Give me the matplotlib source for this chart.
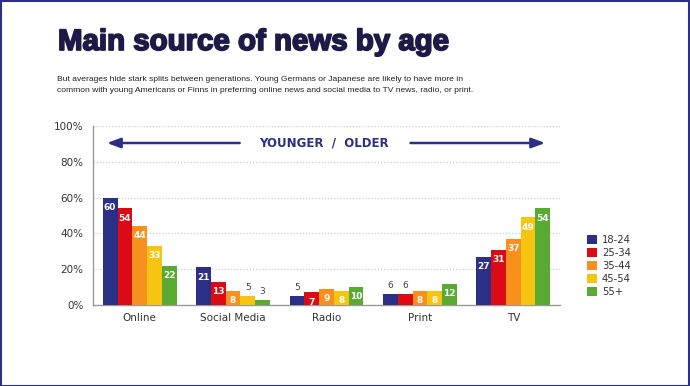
import matplotlib
matplotlib.use("Agg")
import matplotlib.pyplot as plt
import matplotlib.patheffects as pe
import numpy as np
from matplotlib.patches import Rectangle, Patch

categories = ["Online", "Social Media", "Radio", "Print", "TV"]
age_groups = ["18-24", "25-34", "35-44", "45-54", "55+"]
values = {
    "18-24": [60, 21, 5, 6, 27],
    "25-34": [54, 13, 7, 6, 31],
    "35-44": [44, 8, 9, 8, 37],
    "45-54": [33, 5, 8, 8, 49],
    "55+":   [22, 3, 10, 12, 54],
}
colors = ["#2b2f86", "#dc0a14", "#f7901c", "#f6c512", "#58aa32"]
yticks = [0, 20, 40, 60, 80, 100]
ytick_labels = ["0%", "20%", "40%", "60%", "80%", "100%"]

title = "Main source of news by age"
subtitle = ("But averages hide stark splits between generations. Young Germans or Japanese are likely to have more in\n"
            "common with young Americans or Finns in preferring online news and social media to TV news, radio, or print.")

W, H = 690, 386
fig = plt.figure(figsize=(W / 100, H / 100), dpi=100)
fig.patch.set_facecolor("white")

# border
fig.add_artist(Rectangle((0.5 / W, 0.5 / H), 1 - 1.5 / W, 1 - 1.5 / H, transform=fig.transFigure,
                         fill=False, edgecolor="#2b2f86", linewidth=1.5))

title_color = "#1e1a48"
fig.text(58 / W, 1 - 42 / H, title, fontsize=21.2, fontweight="bold", color=title_color,
         family=["Liberation Sans", "DejaVu Sans"], va="center", ha="left",
         path_effects=[pe.withStroke(linewidth=1.3, foreground=title_color)])
fig.text(57 / W, 1 - 85 / H, subtitle, fontsize=6.1, color="#222222",
         family=["Liberation Sans", "DejaVu Sans"], va="center", ha="left", linespacing=1.75)

ax = fig.add_axes([93 / W, 1 - 305 / H, (560 - 93) / W, (305 - 126) / H])
x = np.arange(len(categories))
bw = 0.158
for i, (g, c) in enumerate(zip(age_groups, colors)):
    xs = x + (i - 2) * bw
    vals = values[g]
    ax.bar(xs, vals, width=bw, color=c, zorder=3, linewidth=0)
    for xi, v in zip(xs, vals):
        if v >= 7:
            ax.annotate(str(v), (xi, v), xytext=(0, -7), textcoords="offset points",
                        ha="center", va="center", color="white", fontsize=6.5,
                        fontweight="bold", zorder=4)
        else:
            ax.annotate(str(v), (xi, v), xytext=(0, 6), textcoords="offset points",
                        ha="center", va="center", color="#444444", fontsize=6.5, zorder=4)

ax.set_xlim(-0.5, len(categories) - 0.5)
ax.set_ylim(0, 100)
ax.set_yticks(yticks)
ax.set_yticklabels(ytick_labels)
ax.set_xticks(x)
ax.set_xticklabels(categories)
ax.tick_params(axis="both", length=0, labelsize=7.5, colors="#333333")
ax.tick_params(axis="y", pad=7)
ax.tick_params(axis="x", pad=6)
for yv in yticks[1:]:
    ax.axhline(yv, color="#cccccc", linestyle=(0, (1, 1.5)), linewidth=0.9, zorder=1)
for s in ["top", "right"]:
    ax.spines[s].set_visible(False)
for s in ["left", "bottom"]:
    ax.spines[s].set_color("#999999")
    ax.spines[s].set_linewidth(1.0)

# arrows and label
navy = "#2b2f86"
ax.annotate("", xy=(-0.38, 90.5), xytext=(1.1, 90.5),
            arrowprops=dict(arrowstyle="-|>,head_length=0.8,head_width=0.3", color=navy, lw=1.8))
ax.annotate("", xy=(4.37, 90.5), xytext=(2.87, 90.5),
            arrowprops=dict(arrowstyle="-|>,head_length=0.8,head_width=0.3", color=navy, lw=1.8))
ax.text(1.97, 90.5, "YOUNGER  /  OLDER", ha="center", va="center", color=navy,
        fontsize=8.5, fontweight="heavy")

handles = [Patch(facecolor=c, edgecolor="none") for c in colors]
fig.legend(handles, age_groups, loc="upper left", bbox_to_anchor=(587 / W, 1 - 235 / H),
           frameon=False, fontsize=7.2, handlelength=1.0, handleheight=1.0,
           labelspacing=0.3, handletextpad=0.5, borderaxespad=0, borderpad=0,
           labelcolor="#333333")

fig.savefig("out.png", dpi=100, facecolor="white")
